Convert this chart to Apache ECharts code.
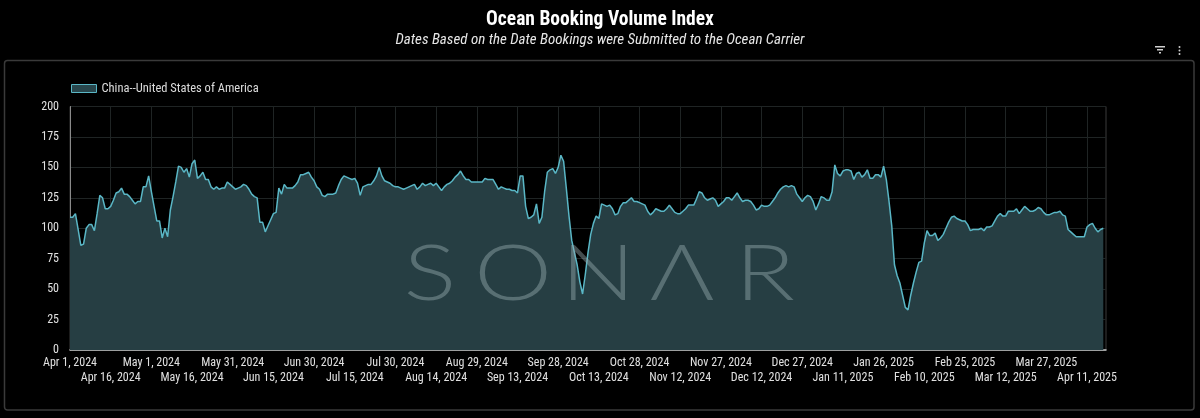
<!DOCTYPE html>
<html>
<head>
<meta charset="utf-8">
<script src="https://cdn.jsdelivr.net/npm/echarts@6/dist/echarts.min.js"></script>
<style>
  html, body { margin: 0; padding: 0; background: #000; }
  #chart { width: 1200px; height: 418px; }
</style>
</head>
<body>
<div id="chart"></div>
<script>
// daily index values, Apr 1 2024 .. Apr 17 2025
const indexPart1 = [109,109,112,99,86,87,100,103,103,98, 112,127,125,116,116,118,123,129,130,133,
  128,128,126,123,120,122,122,134,134,143, 130,118,106,106,92,100,93,115,126,138,
  151,150,146,149,142,153,156,141,143,146, 140,140,134,132,134,132,133,133,138,136,
  134,132,133,134,136,135,132,128,126,125, 105,105,97,102,107,112,113,133,128,136,
  133,133,133,135,138,144,144,145,146,142, 139,134]
const indexPart2 = [132,127,126,128,128,128,129,135,140,143, 142,141,140,141,137,127,134,135,136,136,
  139,143,150,143,139,138,137,135,134,134, 133,132,133,134,135,136,132,134,137,135,
  136,137,135,137,134,131,134,136,137,139, 142,144,147,143,140,140,138,138,138,138,
  138,141,140,140,140,136,132,134,133,132, 132,131,131,129,143,143,118,108,109,111,
  120,104,109,130,146,148,149,145,150]
const indexPart3 = [160,155,133,110,90,80,70,56,46,62, 80,95,104,110,108,120,119,118,119,116,
  111,112,118,121,121,123,125,122,122,121, 120,119,114,111,113,116,115,114,114,116,
  119,116,113,112,112,114,116,119,119,119, 124,130,129,125,123,124,125,123,118,120,
  122,125,125,123,126,129,125,122,123,123, 122,119,115,116,119,118,118,119,122,125,
  129,132,134,135,134,135,134,128,125,122]
const indexPart4 = [125,127,126,122,115,120,126,125,123,123, 130,152,145,143,147,148,148,147,140,145,
  146,142,144,148,141,141,144,144,142,151, 140,122,102,70,61,55,45,35,33,45,
  55,64,72,73,88,98,94,94,96,90, 92,95,100,105,109,110,108,107,106,106,
  103,98,99,99,99,100,98,101,101,102, 106,110,112,110,110,114,114,114,116,112,
  115,118,116,114,114,115,117,116,113,111, 111,112,113,113,114,111,110,99,97,95,
  93,93,93,93,101,103,104,100,97,99, 100]

const seriesName = 'China--United States of America'
const startDate = Date.UTC(2024, 3, 1)
const dayCount = 383   // one empty day at the right edge
const labelEvery = 15
const monthNames = ['Jan','Feb','Mar','Apr','May','Jun','Jul','Aug','Sep','Oct','Nov','Dec']
const yTicks = [0, 25, 50, 75, 100, 125, 150, 175, 200]

const values = [].concat(indexPart1, indexPart2, indexPart3, indexPart4)
const categories = []
for (let i = 0; i < dayCount; i++) {
  const d = new Date(startDate + i * 86400000)
  categories.push(monthNames[d.getUTCMonth()] + ' ' + d.getUTCDate() + ', ' + d.getUTCFullYear())
}
while (values.length < dayCount) values.push(null)

const font = "'Roboto Condensed', 'Roboto', sans-serif"
const chart = echarts.init(document.getElementById('chart'), null, {renderer: 'canvas'})

const sonar = ['S', 'O', 'N', 'Λ', 'R']
const sonarX = [430, 513, 598, 682, 765]

const labelStyle = {color: '#e0e0e0', fontSize: 12, fontFamily: font}

chart.setOption({
  animation: false,
  backgroundColor: '#000',
  title: [{
    text: 'Ocean Booking Volume Index',
    left: 'center', top: 5,
    textStyle: {color: '#fff', fontSize: 19.5, fontWeight: 'bold', fontFamily: font}
  }, {
    text: 'Dates Based on the Date Bookings were Submitted to the Ocean Carrier',
    left: 'center', top: 28,
    textStyle: {color: '#e6e6e6', fontSize: 15, fontStyle: 'italic', fontWeight: 'normal', fontFamily: font}
  }],
  legend: {
    left: 66, top: 77,
    icon: 'rect', itemWidth: 25, itemHeight: 8, itemGap: 5,
    itemStyle: {color: '#28464c', borderColor: '#5ab7c6', borderWidth: 1},
    textStyle: {color: '#dcdcdc', fontSize: 12.5, fontFamily: font},
    data: [seriesName]
  },
  grid: {
    left: 70, right: 94, top: 106.5, bottom: 68,
    show: true, borderColor: '#3a3a3a', borderWidth: 1
  },
  xAxis: [{
    // first row of date labels: Apr 1, May 1, ...
    type: 'category',
    data: categories,
    boundaryGap: false,
    axisLine: {lineStyle: {color: '#c8c8c8', width: 1.5}},
    axisTick: {show: false},
    axisLabel: {...labelStyle, interval: labelEvery * 2 - 1, margin: 7},
    splitLine: {show: true, interval: labelEvery - 1, lineStyle: {color: '#1f2424'}}
  }, {
    // second row: Apr 16, May 16, ...
    type: 'category',
    data: categories,
    boundaryGap: false,
    position: 'bottom',
    offset: 15,
    axisLine: {show: false},
    axisTick: {show: false},
    splitLine: {show: false},
    axisLabel: {
      ...labelStyle, interval: labelEvery - 1, margin: 7,
      formatter: (v, i) => (Math.floor(i / labelEvery) % 2 ? v : '')
    }
  }],
  yAxis: {
    type: 'value',
    min: yTicks[0], max: yTicks[yTicks.length - 1], interval: 25,
    axisLine: {show: true, lineStyle: {color: '#8a8a8a'}},
    axisTick: {show: false},
    axisLabel: {...labelStyle, margin: 11},
    splitLine: {lineStyle: {color: '#1f2424'}}
  },
  series: [{
    name: seriesName,
    type: 'line',
    data: values,
    showSymbol: false,
    lineStyle: {color: '#5ab7c6', width: 1.5},
    itemStyle: {color: '#5ab7c6'},
    areaStyle: {color: '#263e43', opacity: 1},
    z: 2
  }],
  graphic: [
    // panel border
    {type: 'rect', shape: {x: 4.5, y: 60.5, width: 1189.5, height: 349.5, r: 3},
     style: {fill: 'none', stroke: '#3a3a3a', lineWidth: 1.5}, z: 0, silent: true},
    // filter icon
    {type: 'rect', shape: {x: 1155, y: 46, width: 10, height: 1.5}, style: {fill: '#cfcfcf'}},
    {type: 'rect', shape: {x: 1157, y: 49, width: 6, height: 1.5}, style: {fill: '#cfcfcf'}},
    {type: 'rect', shape: {x: 1159, y: 52, width: 2, height: 1.5}, style: {fill: '#cfcfcf'}},
    // menu dots
    {type: 'circle', shape: {cx: 1179.5, cy: 47, r: 1}, style: {fill: '#cfcfcf'}},
    {type: 'circle', shape: {cx: 1179.5, cy: 50.5, r: 1}, style: {fill: '#cfcfcf'}},
    {type: 'circle', shape: {cx: 1179.5, cy: 54, r: 1}, style: {fill: '#cfcfcf'}},
    // watermark
    ...sonar.map((ch, i) => ({
      type: 'text', x: sonarX[i], y: 275, scaleX: 1.3, z: 10, silent: true,
      style: {
        text: ch, fill: 'rgba(150,170,175,0.45)', align: 'center', verticalAlign: 'middle',
        font: "300 76px Lato, 'Noto Sans', sans-serif"
      }
    }))
  ]
})
</script>
</body>
</html>
